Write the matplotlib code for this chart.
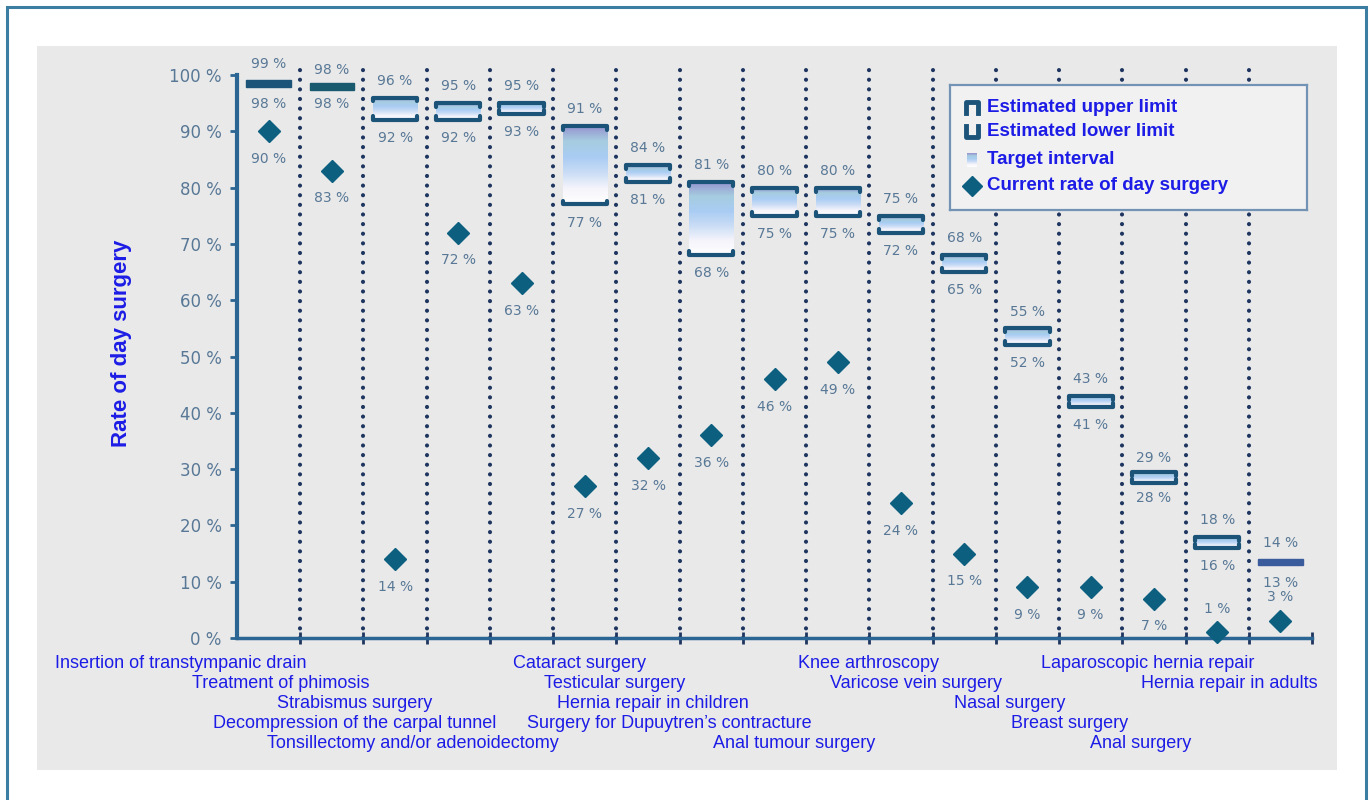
import numpy as np
import matplotlib
matplotlib.use('Agg')
import matplotlib.pyplot as plt
from matplotlib.colors import LinearSegmentedColormap
from matplotlib.patches import Rectangle

W, H = 1370, 800

categories = ['Insertion of transtympanic drain', 'Treatment of phimosis', 'Strabismus surgery',
              'Decompression of the carpal tunnel', 'Tonsillectomy and/or adenoidectomy',
              'Cataract surgery', 'Testicular surgery', 'Hernia repair in children',
              'Surgery for Dupuytren\u2019s contracture', 'Anal tumour surgery', 'Knee arthroscopy',
              'Varicose vein surgery', 'Nasal surgery', 'Breast surgery', 'Anal surgery',
              'Laparoscopic hernia repair', 'Hernia repair in adults']
upper = [99, 98, 96, 95, 95, 91, 84, 81, 80, 80, 75, 68, 55, 43, 29, 18, 14]
lower = [98, 98, 92, 92, 93, 77, 81, 68, 75, 75, 72, 65, 52, 41, 28, 16, 13]
current = [90, 83, 14, 72, 63, 27, 32, 36, 46, 49, 24, 15, 9, 9, 7, 1, 3]
label_rows = [0, 1, 2, 3, 4, 0, 1, 2, 3, 4, 0, 1, 2, 3, 4, 0, 1]
yticks = [0, 10, 20, 30, 40, 50, 60, 70, 80, 90, 100]
# narrow intervals drawn as a single solid bar in the original
solid_bar = ['#1b5379', '#1a5a6e', None, None, None, None, None, None, None, None,
             None, None, None, None, None, None, '#3a5c9c']

DARK = '#1b5379'
DIAMOND = '#0c5f7f'
VALUE = '#587896'
AXIS = '#2b6593'
BLUE_TXT = '#1c1ce6'

grad_cmap = LinearSegmentedColormap.from_list(
    'target', ['#ffffff', '#f4f4fb', '#c9dcf5', '#a9ccf3', '#a6cde0', '#9591cf'])

fig = plt.figure(figsize=(W / 100, H / 100), dpi=100)
fig.patch.set_facecolor('white')

# outer frame and grey panel
fig.patches.append(Rectangle((7 / W, -0.05), 1359 / W, 1.0413, transform=fig.transFigure,
                             fill=False, edgecolor='#3b7ea1', lw=2.2, zorder=-2))
fig.patches.append(Rectangle((37 / W, (H - 770) / H), 1300 / W, 724 / H, transform=fig.transFigure,
                             facecolor='#e9e9e9', edgecolor='none', zorder=-1))

ax = fig.add_axes([237 / W, (H - 638) / H, (1312 - 237) / W, 563 / H])
ax.set_zorder(1)
ax.set_facecolor('none')
ax.set_xlim(0, len(categories))
ax.set_ylim(0, 100)

n = len(categories)
xs = np.arange(n) + 0.5

# dotted separators
seps = ax.vlines(np.arange(1, n), 0, 100.8, colors='#1e3560', lw=3,
                 linestyles=(0, (0.01, 2.3)), clip_on=False, zorder=1)
seps.set_capstyle('round')

hw = 0.35
grad = np.linspace(0, 1, 100).reshape(-1, 1)
for x, hi, lo, sb in zip(xs, upper, lower, solid_bar):
    if sb is not None:
        mid = (hi + lo) / 2
        ax.add_patch(Rectangle((x - hw, mid - 0.6), 2 * hw, 1.2, facecolor=sb,
                               edgecolor=sb, lw=1, zorder=3, clip_on=False))
    else:
        mid = (hi + lo) / 2
        half = max((hi - lo) / 2, 0.9)
        top, bot = mid + half, mid - half
        ax.imshow(grad, extent=[x - hw, x + hw, bot, top], cmap=grad_cmap, aspect='auto',
                  origin='lower', zorder=2)
        d = 0.7
        ax.plot([x - hw, x - hw, x + hw, x + hw], [top - d, top, top, top - d], color=DARK,
                lw=3, solid_joinstyle='round', solid_capstyle='round', zorder=3)
        ax.plot([x - hw, x - hw, x + hw, x + hw], [bot + d, bot, bot, bot + d], color=DARK,
                lw=3, solid_joinstyle='round', solid_capstyle='round', zorder=3)
    ax.annotate(f'{hi} %', (x, hi), xytext=(0, 12), textcoords='offset points',
                ha='center', va='center', fontsize=10, color=VALUE)
    ax.annotate(f'{lo} %', (x, lo), xytext=(0, -13), textcoords='offset points',
                ha='center', va='center', fontsize=10, color=VALUE)

ax.plot(xs, current, ls='none', marker='D', ms=11, color=DIAMOND, zorder=4, clip_on=False)
for x, v in zip(xs, current):
    dy = 17 if v <= 3 else -20
    ax.annotate(f'{v} %', (x, v), xytext=(0, dy), textcoords='offset points',
                ha='center', va='center', fontsize=10, color=VALUE)

ax.set_xlim(0, n)
ax.set_ylim(0, 100)

# axes styling
for s in ['top', 'right']:
    ax.spines[s].set_visible(False)
ax.spines['left'].set_color(AXIS)
ax.spines['left'].set_linewidth(3)
ax.spines['bottom'].set_color(AXIS)
ax.spines['bottom'].set_linewidth(2.5)
ax.set_yticks(yticks)
ax.set_yticklabels([f'{t} %' for t in yticks])
ax.tick_params(axis='y', direction='out', length=5, width=2, color=AXIS,
               labelcolor=VALUE, labelsize=12, pad=6)
ax.set_xticks(np.arange(1, n + 1))
ax.set_xticklabels([])
ax.tick_params(axis='x', direction='inout', length=8, width=2, color='#1e3560')

# category labels, staggered
for i, (lab, r) in enumerate(zip(categories, label_rows)):
    extra = 24 if lab.startswith('Cataract') else 0
    ax.annotate(lab, (i + 1, 0), xytext=((6 + extra) * 0.72, -(25 + 20 * r) * 0.72),
                textcoords='offset points', ha='right', va='center',
                fontsize=13, family='Liberation Sans', color=BLUE_TXT, annotation_clip=False)

fig.text(122 / W, (H - 343) / H, 'Rate of day surgery', rotation=90, ha='center', va='center',
         fontsize=16, fontweight='bold', family='Liberation Sans', color=BLUE_TXT)

# legend box drawn in pixel units
lg = fig.add_axes([950 / W, (H - 210) / H, 357 / W, 125 / H])
lg.set_zorder(2)
lg.set_xlim(0, 357)
lg.set_ylim(125, 0)
lg.set_facecolor('#f1f1f1')
for s in lg.spines.values():
    s.set_color('#7393b5')
    s.set_linewidth(1.6)
lg.set_xticks([])
lg.set_yticks([])
rows_y = [22, 47, 75, 101]
ix = 22
lg.plot([ix - 6, ix - 6, ix + 6, ix + 6], [rows_y[0] + 6, rows_y[0] - 5, rows_y[0] - 5, rows_y[0] + 6],
        color=DARK, lw=3.5)
lg.plot([ix - 6, ix - 6, ix + 6, ix + 6], [rows_y[1] - 6, rows_y[1] + 5, rows_y[1] + 5, rows_y[1] - 6],
        color=DARK, lw=3.5)
lg.imshow(grad[::-1], extent=[ix - 5, ix + 5, rows_y[2] + 7, rows_y[2] - 7], cmap=grad_cmap,
          aspect='auto', zorder=2)
lg.plot([ix], [rows_y[3]], marker='D', ms=10, color=DIAMOND)
lg.set_xlim(0, 357)
lg.set_ylim(125, 0)
for y, t in zip(rows_y, ['Estimated upper limit', 'Estimated lower limit', 'Target interval',
                         'Current rate of day surgery']):
    lg.text(37, y, t, ha='left', va='center', fontsize=13.5, fontweight='bold',
            family='Liberation Sans', color=BLUE_TXT)

fig.savefig('out.png', dpi=100)
